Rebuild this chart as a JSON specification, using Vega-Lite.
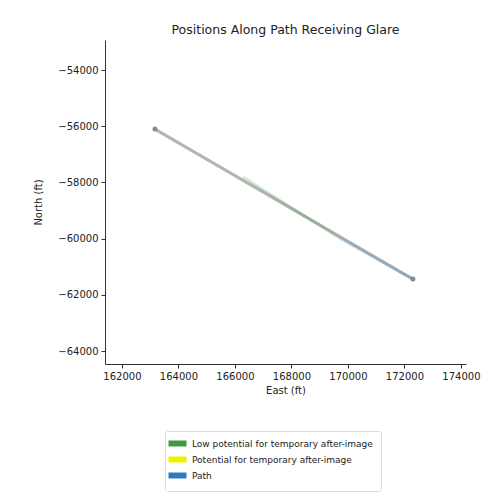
{
  "$schema": "https://vega.github.io/schema/vega-lite/v6.json",
  "width": 361,
  "height": 324,
  "autosize": {"type": "none"},
  "padding": {"left": 105, "top": 40, "right": 27, "bottom": 136},
  "background": "white",
  "title": {"text": "Positions Along Path Receiving Glare", "font": "DejaVu Sans", "fontSize": 12.5, "fontWeight": "normal", "color": "#222", "anchor": "middle", "offset": 4},
  "config": {
    "view": {"stroke": null},
    "axis": {"labelFont": "DejaVu Sans", "titleFont": "DejaVu Sans", "labelFontSize": 10, "titleFontSize": 10, "titleFontWeight": "normal", "labelColor": "#222", "titleColor": "#222", "domainColor": "#333", "tickColor": "#333", "grid": false, "tickSize": 4, "labelPadding": 3}
  },
  "datasets": {
    "path": [
      {"east": 163168, "north": -56100, "seg": "full"},
      {"east": 172300, "north": -61438, "seg": "full"}
    ],
    "glare": [
      {"east": 166283, "north": -57808, "category": "Low potential for temporary after-image"},
      {"east": 169646, "north": -59943, "category": "Low potential for temporary after-image"},
      {"east": 169646, "north": -59943, "category": "Path"},
      {"east": 172300, "north": -61438, "category": "Path"}
    ]
  },
  "encoding": {
    "x": {"field": "east", "type": "quantitative", "title": "East (ft)",
      "scale": {"domain": [161400, 174180], "nice": false, "zero": false},
      "axis": {"values": [162000, 164000, 166000, 168000, 170000, 172000, 174000], "format": "d", "titlePadding": 4}},
    "y": {"field": "north", "type": "quantitative", "title": "North (ft)",
      "scale": {"domain": [-64460, -52930], "nice": false, "zero": false},
      "axis": {"values": [-64000, -62000, -60000, -58000, -56000, -54000], "format": "d", "labelExpr": "replace(datum.label, '-', '\u2212')", "titlePadding": 14}}
  },
  "layer": [
    {
      "data": {"name": "path"},
      "mark": {"type": "line", "color": "#b5b5b5", "strokeWidth": 3}
    },
    {
      "data": {"name": "glare"},
      "mark": {"type": "line", "strokeWidth": 3, "opacity": 0.22},
      "encoding": {
        "detail": {"field": "category"},
        "color": {"field": "category", "type": "nominal",
          "scale": {"domain": ["Low potential for temporary after-image", "Potential for temporary after-image", "Path"], "range": ["#3f9a3f", "#f2ee00", "#2f7bbf"]},
          "legend": {"title": null, "orient": "none", "legendX": 60, "legendY": 391, "symbolType": "M-2.5,-0.5H2.5V0.5H-2.5Z", "symbolStrokeWidth": 3, "symbolSize": 36, "symbolOpacity": 1, "labelFont": "DejaVu Sans", "labelFontSize": 9, "labelColor": "#222", "strokeColor": "#dddddd", "padding": 8, "cornerRadius": 2, "rowPadding": 1, "labelLimit": 300, "labelOffset": 10}
        }
      }
    },
    {
      "data": {"name": "path"},
      "mark": {"type": "point", "filled": true, "color": "#8a8a8a", "size": 25, "opacity": 1}
    }
  ]
}
